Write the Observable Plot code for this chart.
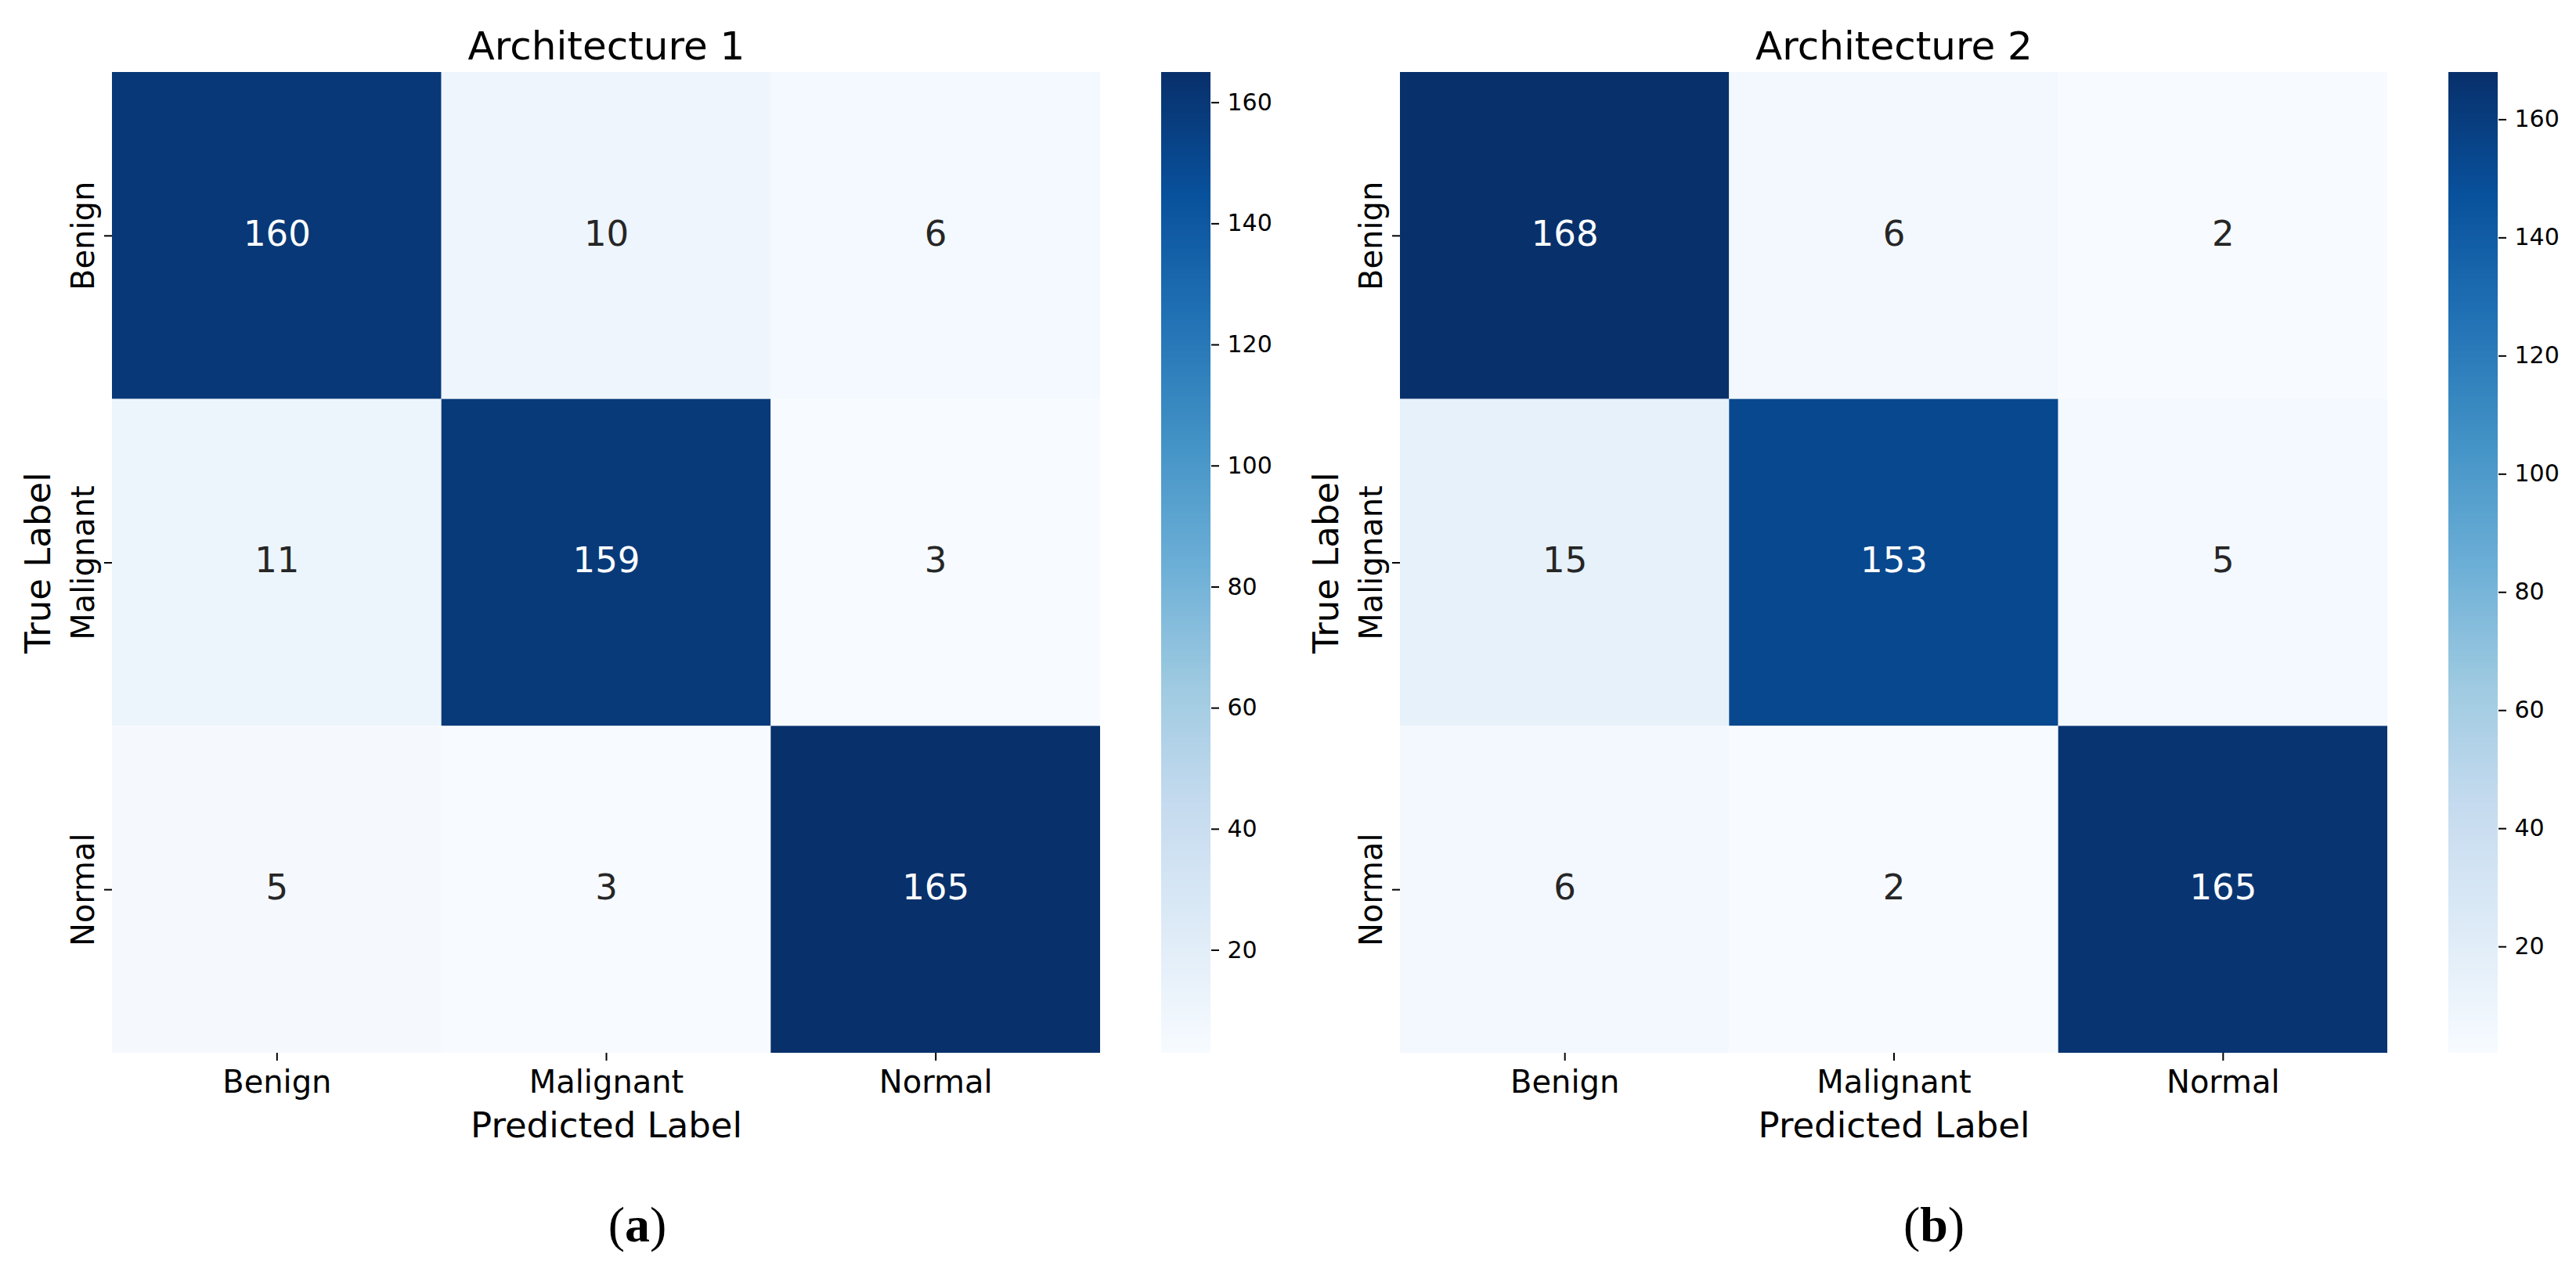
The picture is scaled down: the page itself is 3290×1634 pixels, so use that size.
<!DOCTYPE html>
<html>
<head>
<meta charset="utf-8">
<script src="https://cdn.jsdelivr.net/npm/d3@7"></script>
<script src="https://cdn.jsdelivr.net/npm/@observablehq/plot@0.6"></script>
<style>
  html, body { margin: 0; padding: 0; background: #ffffff; }
  #fig { position: relative; width: 3290px; height: 1634px; background: #ffffff; overflow: hidden; }
  #fig > .panel { position: absolute; top: 0; }
  #fig svg { overflow: visible; }
  .sub { position: absolute; width: 300px; text-align: center; font-family: "Liberation Serif", serif; font-size: 64px; line-height: 64px; color: #000; }
</style>
</head>
<body>
<div id="fig"></div>
<script>
// Class labels (rows = true label, columns = predicted label)
const classes = ["Benign", "Malignant", "Normal"];

// Confusion matrices
const arch1Counts = [
  [160, 10, 6],
  [11, 159, 3],
  [5, 3, 165]
];
const arch2Counts = [
  [168, 6, 2],
  [15, 153, 5],
  [6, 2, 165]
];

const panelTitles = ["Architecture 1", "Architecture 2"];
const panelTags = ["a", "b"];
const colorbarTicks = [20, 40, 60, 80, 100, 120, 140, 160];

// Matplotlib "Blues" anchor colours
const blues = ["#f7fbff", "#deebf7", "#c6dbef", "#9ecae1", "#6baed6", "#4292c6", "#2171b5", "#08519c", "#08306b"];

const FONT = "DejaVu Sans";

function toRows(counts) {
  const rows = [];
  counts.forEach((r, i) => r.forEach((v, j) => rows.push({truth: classes[i], pred: classes[j], value: v})));
  return rows;
}

function relLum(c) {
  const {r, g, b} = d3.rgb(c);
  const f = v => { v /= 255; return v <= 0.03928 ? v / 12.92 : Math.pow((v + 0.055) / 1.055, 2.4); };
  return 0.2126 * f(r) + 0.7152 * f(g) + 0.0722 * f(b);
}

function heatmap(counts, title, layout) {
  const rows = toRows(counts);
  const values = rows.map(d => d.value);
  const vmin = d3.min(values), vmax = d3.max(values);
  const stops = blues.map((_, i) => vmin + i * (vmax - vmin) / (blues.length - 1));
  const ramp = d3.scaleLinear().domain(stops).range(blues);
  const textColor = d => relLum(ramp(d.value)) > 0.408 ? "#262626" : "#ffffff";

  const heat = Plot.plot({
    width: layout.width, height: 1480,
    marginLeft: layout.left, marginRight: layout.width - layout.right,
    marginTop: 92, marginBottom: 1480 - 1345,
    style: {fontFamily: FONT, background: "transparent", overflow: "visible"},
    x: {domain: classes, padding: 0, round: false},
    y: {domain: classes, padding: 0, round: false},
    color: {type: "linear", domain: stops, range: blues, interpolate: "rgb"},
    marks: [
      Plot.cell(rows, {x: "pred", y: "truth", fill: "value", inset: 0}),
      Plot.text(rows, {x: "pred", y: "truth", text: d => String(d.value), fill: textColor, fontSize: 45, dy: -2}),
      Plot.axisX({anchor: "bottom", tickSize: 10, tickPadding: 12, fontSize: 40, strokeWidth: 2, label: null}),
      Plot.axisY({anchor: "left", tickSize: 10, strokeWidth: 2, tickFormat: () => "", label: null}),
      Plot.text(classes, {y: d => d, text: d => d, frameAnchor: "left", rotate: -90, dx: -24,
        lineAnchor: "bottom", textAnchor: "middle", fontSize: 40, fill: "#000"}),
      Plot.text([title], {text: d => d, frameAnchor: "top", dy: -17, lineAnchor: "bottom", textAnchor: "middle", fontSize: 50, fill: "#000"}),
      Plot.text(["Predicted Label"], {text: d => d, frameAnchor: "bottom", dy: 107, lineAnchor: "bottom", textAnchor: "middle", fontSize: 45, fill: "#000"}),
      Plot.text(["True Label"], {text: d => d, frameAnchor: "left", rotate: -90, dx: -80, lineAnchor: "bottom", textAnchor: "middle", fontSize: 45, fill: "#000"})
    ]
  });

  // Vertical colour bar sharing the same colour mapping
  const N = 420;
  const steps = d3.range(N).map(i => {
    const a = vmin + i * (vmax - vmin) / N, b = vmin + (i + 1) * (vmax - vmin) / N;
    return {y1: a, y2: b, v: (a + b) / 2};
  });
  const cb = Plot.plot({
    width: 200, height: 1400,
    marginLeft: layout.cbLeft, marginRight: 200 - layout.cbRight,
    marginTop: 92, marginBottom: 1400 - 1345,
    style: {fontFamily: FONT, background: "transparent", overflow: "visible"},
    x: {domain: [0, 1], axis: null},
    y: {domain: [vmin, vmax], round: false},
    color: {type: "linear", domain: stops, range: blues, interpolate: "rgb"},
    marks: [
      Plot.rect(steps, {x1: 0, x2: 1, y1: "y1", y2: "y2", fill: "v", shapeRendering: "crispEdges"}),
      Plot.axisY({anchor: "right", ticks: colorbarTicks, tickSize: 10, tickPadding: 11, fontSize: 30, strokeWidth: 2, label: null})
    ]
  });
  return {heat, cb};
}

const fig = document.getElementById("fig");

const layouts = [
  {x0: 0, width: 1440, left: 143, right: 1405, cbX0: 1450, cbLeft: 33, cbRight: 96, tagX: 814},
  {x0: 1650, width: 1430, left: 138, right: 1399, cbX0: 3090, cbLeft: 37, cbRight: 100, tagX: 2470}
];

[arch1Counts, arch2Counts].forEach((counts, k) => {
  const L = layouts[k];
  const {heat, cb} = heatmap(counts, panelTitles[k], L);
  const p1 = document.createElement("div");
  p1.className = "panel";
  p1.style.left = L.x0 + "px";
  p1.appendChild(heat);
  fig.appendChild(p1);

  const p2 = document.createElement("div");
  p2.className = "panel";
  p2.style.left = L.cbX0 + "px";
  p2.appendChild(cb);
  fig.appendChild(p2);

  const tag = document.createElement("div");
  tag.className = "sub";
  tag.style.left = (L.tagX - 150) + "px";
  tag.style.top = "1533px";
  tag.innerHTML = "(<b>" + panelTags[k] + "</b>)";
  fig.appendChild(tag);
});
</script>
</body>
</html>
